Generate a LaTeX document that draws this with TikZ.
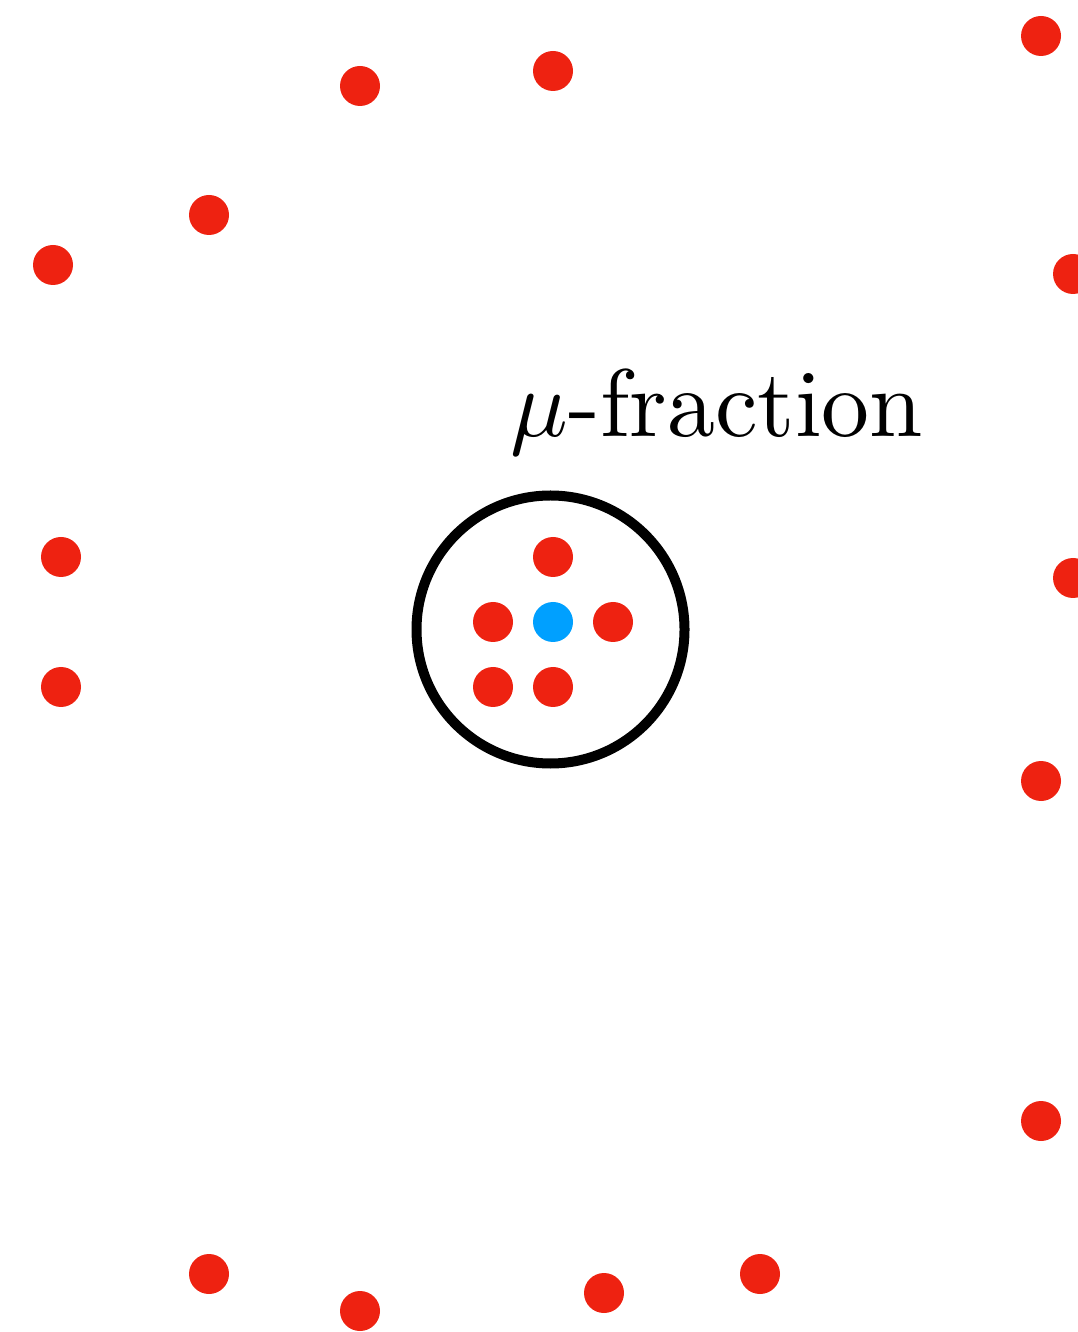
\documentclass[tikz,border=0pt]{standalone}
\usepackage{xcolor}
\usepackage{tikz}
\usetikzlibrary{positioning}

\definecolor{dotred}{RGB}{238,34,17}
\definecolor{dotblue}{RGB}{0,160,255}

\begin{document}
\begin{tikzpicture}[
    x=1cm, y=-1cm,
    particle/.style={circle, fill=dotred, inner sep=0pt, minimum size=0.4cm},
    probe/.style={particle, fill=dotblue},
    fractionring/.style={circle, draw=black, line width=0.1cm, inner sep=0pt,
                 minimum size=2.68cm},
    tag/.style={anchor=base west, inner sep=0pt, font=\normalsize,
                 scale=2.73, transform shape}
]
\useasboundingbox (0,0) rectangle (10.77,13.32);

% outer particles
\foreach \px/\py [count=\i] in {10.41/0.36, 3.60/0.86, 5.53/0.71, 2.09/2.15,
    0.53/2.65, 10.73/2.74, 0.61/5.57, 0.61/6.87, 10.73/5.78, 10.41/7.81,
    10.41/11.21, 2.09/12.74, 3.60/13.11, 6.04/12.93, 7.60/12.74}
  \node[particle] (out\i) at (\px,\py) {};

% ring with its cluster
\node[fractionring] (ring) at (5.505,6.295) {};
\node[probe] (centre) at (5.53,6.22) {};
\node[particle, above=0.65cm of centre.center, anchor=center] (top) {};
\node[particle, left=0.6cm of centre.center, anchor=center] (left) {};
\node[particle, right=0.6cm of centre.center, anchor=center] (right) {};
\node[particle, below=0.65cm of centre.center, anchor=center] (bottom) {};
\node[particle, below=0.65cm of left.center, anchor=center] (corner) {};

\node[tag] (label) at (5.085,4.37) {$\mu$-fraction};
\end{tikzpicture}
\end{document}
